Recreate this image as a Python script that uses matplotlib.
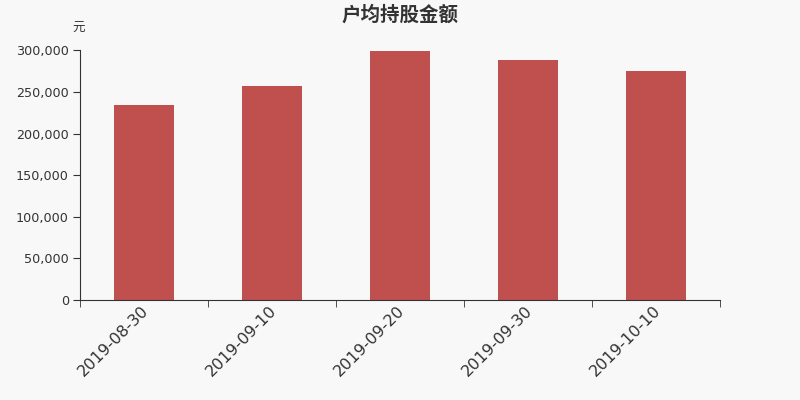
import matplotlib
matplotlib.use("Agg")
import matplotlib.pyplot as plt
import matplotlib.transforms as mtransforms
import numpy as np

categories = ["2019-08-30", "2019-09-10", "2019-09-20", "2019-09-30", "2019-10-10"]
values = [235000, 257000, 299000, 288500, 275000]
yticks = [0, 50000, 100000, 150000, 200000, 250000, 300000]

plt.rcParams['font.family'] = ['Noto Sans CJK SC', 'DejaVu Sans']
bg = '#f8f8f8'
fig = plt.figure(figsize=(8, 4), dpi=100, facecolor=bg)
ax = fig.add_axes([0.1, 0.25, 0.8, 0.6238])
ax.set_facecolor(bg)
x = np.arange(len(categories))
ax.bar(x, values, width=60/128, color='#c0504e')
ax.set_xlim(-0.5, len(categories) - 0.5)
ax.set_ylim(0, 300000)
ax.set_yticks(yticks)
ax.set_yticklabels([f"{v:,}" for v in yticks], family='DejaVu Sans', fontsize=9.2, color='#333333')
ax.set_xticks(x)
ax.set_xticklabels(categories, rotation=45, ha='right', rotation_mode='anchor',
                   family='DejaVu Sans', fontsize=11.5, color='#333333')
ax.tick_params(axis='x', which='major', length=0, pad=2)
offset = mtransforms.ScaledTranslation(-3/100, 0, fig.dpi_scale_trans)
for lbl in ax.get_xticklabels():
    lbl.set_transform(lbl.get_transform() + offset)
ax.set_xticks(np.arange(-0.5, len(categories), 1), minor=True)
ax.tick_params(axis='x', which='minor', length=5, color='#333333')
ax.tick_params(axis='y', length=5, color='#333333', pad=3)
for s in ['top', 'right']:
    ax.spines[s].set_visible(False)
for s in ['left', 'bottom']:
    ax.spines[s].set_color('#333333')
fig.text(0.5, 0.963, "户均持股金额", ha='center', va='center', fontsize=14, fontweight='bold', color='#333333')
fig.text(0.098, 0.928, "元", ha='center', va='center', fontsize=9, color='#333333')
fig.savefig("out.png", dpi=100, facecolor=bg)
